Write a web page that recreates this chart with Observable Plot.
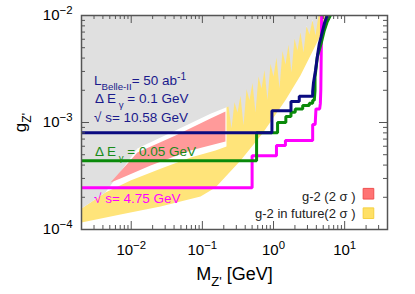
<!DOCTYPE html>
<html><head><meta charset="utf-8">
<script src="https://cdn.jsdelivr.net/npm/d3@7"></script>
<script src="https://cdn.jsdelivr.net/npm/@observablehq/plot@0.6"></script>
<style>
body{margin:0;background:#fff;}
svg{font-family:"Liberation Sans",Arial,Helvetica,sans-serif;}
</style></head><body><div id="chart"></div>
<script>
const xDomain = [0.002, 40];
const yDomain = [1e-4, 1e-2];
const xMajor = [0.01, 0.1, 1, 10];
const xTickLabels = ["10^{−2}", "10^{−1}", "10^{0}", "10^{1}"];
const xMinor = [0.002,0.003,0.004,0.005,0.006,0.007,0.008,0.009,0.02,0.03,0.04,0.05,0.06,0.07,0.08,0.09,0.2,0.3,0.4,0.5,0.6,0.7,0.8,0.9,2,3,4,5,6,7,8,9,20,30];
const yMajor = [1e-4, 1e-3, 1e-2];
const yTickLabels = ["10^{−4}", "10^{−3}", "10^{−2}"];
const yMinor = [2e-4,3e-4,4e-4,5e-4,6e-4,7e-4,8e-4,9e-4,2e-3,3e-3,4e-3,5e-3,6e-3,7e-3,8e-3,9e-3];

// g-2 in future (2 sigma), [M, g]
const futureBand = [[0.002,1.57e-4],[0.00434,2.22e-4],[0.00977,2.87e-4],[0.0258,3.70e-4],[0.0681,4.71e-4],[0.153,5.47e-4],[0.2183,5.97e-4],[0.2183,1.47e-3],[0.9989,3.96e-3],[4.285,1e-2],[6.32,1e-2],[3.89,5.25e-3],[2.39,2.75e-3],[1.47,1.61e-3],[0.700,7.89e-4],[0.344,4.41e-4],[0.153,2.47e-4],[0.0942,2.03e-4],[0.0258,1.64e-4],[0.00706,1.38e-4],[0.002,1.16e-4]];
// excluded (gray) region with its jagged limit
const grayRegion = [[0.002,1e-2],[4.285,1e-2],[3.889,6.50e-3],[3.529,9.14e-3],[3.203,6.65e-3],[2.906,7.98e-3],[2.638,4.51e-3],[2.393,6.98e-3],[2.172,4.71e-3],[1.971,6.10e-3],[1.788,2.93e-3],[1.623,5.32e-3],[1.473,3.48e-3],[1.337,4.65e-3],[1.213,2.08e-3],[1.101,4.06e-3],[0.9989,2.69e-3],[0.9066,3.54e-3],[0.8225,1.61e-3],[0.7464,3.09e-3],[0.6774,2.08e-3],[0.6147,2.69e-3],[0.5577,1.24e-3],[0.5063,2.34e-3],[0.4594,1.61e-3],[0.4170,2.04e-3],[0.3783,9.38e-4],[0.3433,1.78e-3],[0.3114,1.24e-3],[0.2827,1.55e-3],[0.2566,8.79e-4],[0.2329,1.41e-3],[0.130,1.21e-3],[0.0419,8.41e-4],[0.0122,5.71e-4],[0.00434,2.22e-4],[0.002,1.57e-4]];
// g-2 (2 sigma)
const currentBand = [[0.00512,2.75e-4],[0.0122,5.25e-4],[0.0419,7.57e-4],[0.130,1.09e-3],[0.211,1.27e-3],[0.211,6.65e-4],[0.0681,5.47e-4],[0.0187,3.96e-4],[0.00706,3.0e-4]];

// Belle-II sensitivity, dE = 0.1 GeV, sqrt(s) = 10.58 GeV
const blueLine = [[0.002,8e-4],[0.95,8e-4],[0.95,1.29e-3],[1.76,1.29e-3],[1.76,1.57e-3],[2.30,1.57e-3],[2.30,1.76e-3],[3.55,1.76e-3],[3.55,1.95e-3],[3.65,2.37e-3],[3.89,3.06e-3],[4.18,4.38e-3],[4.40,5.44e-3],[4.65,6.27e-3],[5.17,8.36e-3],[5.65,1e-2]];
// dE = 0.05 GeV
const greenLine = [[0.002,4.4e-4],[0.578,4.4e-4],[0.578,8e-4],[1.14,8e-4],[1.14,1.0e-3],[1.49,1.0e-3],[1.49,1.14e-3],[1.76,1.14e-3],[1.76,1.25e-3],[2.02,1.25e-3],[2.02,1.34e-3],[2.57,1.34e-3],[2.57,1.44e-3],[3.18,1.44e-3],[3.18,1.51e-3],[3.55,1.51e-3],[3.55,1.61e-3],[3.74,1.61e-3],[3.83,1.99e-3],[3.83,2.65e-3],[4.12,4.07e-3],[4.65,5.44e-3],[5.17,7.24e-3],[5.65,8.66e-3],[6.28,1e-2]];
// sqrt(s) = 4.75 GeV
const magentaLine = [[0.002,2.45e-4],[0.5,2.45e-4],[0.5,4.9e-4],[1.1,4.9e-4],[1.1,6.1e-4],[1.47,6.1e-4],[1.47,6.8e-4],[3.55,6.8e-4],[3.55,9.6e-4],[3.85,9.6e-4],[3.95,1.34e-3],[4.45,1.34e-3],[4.55,1.5e-3],[4.62,2.0e-3],[4.75,1e-2]];

const annotations = [
  {text: "L_{Belle-II}= 50 ab^{-1}", m: 0.003, g: 2.22e-3, color: "#1a1a8c"},
  {text: "Δ E_{ γ} = 0.1 GeV", m: 0.0031, g: 1.51e-3, color: "#1a1a8c"},
  {text: "√ s= 10.58 GeV", m: 0.0030, g: 1.01e-3, color: "#1a1a8c"},
  {text: "Δ E_{ γ} = 0.05 GeV", m: 0.0031, g: 4.84e-4, color: "#1a8c1a"},
  {text: "√ s= 4.75 GeV", m: 0.0030, g: 1.78e-4, color: "#ff00ff"}
];
const legendItems = [
  {label: "g-2 (2 σ )", m: 14.2, g: 1.84e-4, sm: 21.6, sg: 2.16e-4, fill: "#ff7373", stroke: "#f05050"},
  {label: "g-2 in future(2 σ )", m: 14.2, g: 1.28e-4, sm: 21.6, sg: 1.42e-4, fill: "#ffe066", stroke: "#f5d040"}
];

const frameColor = "#555";
const innerH = 214, innerW = 306;
const P = d => d[0], Q = d => d[1];

const svg = Plot.plot({
  width: 415, height: 294,
  marginLeft: 81, marginRight: 28, marginTop: 15, marginBottom: 65,
  x: {type: "log", domain: xDomain},
  y: {type: "log", domain: yDomain},
  marks: [
    Plot.line(futureBand, {x: P, y: Q, fill: "#ffe47a", stroke: "none", clip: true}),
    Plot.line(grayRegion, {x: P, y: Q, fill: "#e0e0e0", stroke: "none", clip: true}),
    Plot.line(currentBand, {x: P, y: Q, fill: "#ff9a9a", stroke: "none", clip: true}),
    Plot.line(magentaLine, {x: P, y: Q, stroke: "#ff00ff", strokeWidth: 3, clip: true, strokeLinejoin: "miter"}),
    Plot.line(greenLine, {x: P, y: Q, stroke: "#0a8a0a", strokeWidth: 3, clip: true, strokeLinejoin: "miter"}),
    Plot.line(blueLine, {x: P, y: Q, stroke: "#0a0a80", strokeWidth: 3, clip: true, strokeLinejoin: "miter"}),
    Plot.text(annotations, {x: "m", y: "g", text: "text", fill: "color", textAnchor: "start", lineAnchor: "bottom", fontSize: 13.5}),
    Plot.text(legendItems, {x: "m", y: "g", text: "label", textAnchor: "end", lineAnchor: "bottom", fontSize: 13, fill: "#222"}),
    Plot.dot(legendItems, {x: "sm", y: "sg", symbol: "square", r: 6, fill: "fill", stroke: "stroke", strokeWidth: 1}),
    Plot.tickX(xMajor, {x: d => d, insetTop: innerH - 8, stroke: frameColor}),
    Plot.tickX(xMajor, {x: d => d, insetBottom: innerH - 8, stroke: frameColor}),
    Plot.tickX(xMinor, {x: d => d, insetTop: innerH - 4, stroke: frameColor}),
    Plot.tickX(xMinor, {x: d => d, insetBottom: innerH - 4, stroke: frameColor}),
    Plot.tickY(yMajor, {y: d => d, insetRight: innerW - 8, stroke: frameColor}),
    Plot.tickY(yMajor, {y: d => d, insetLeft: innerW - 8, stroke: frameColor}),
    Plot.tickY(yMinor, {y: d => d, insetRight: innerW - 4, stroke: frameColor}),
    Plot.tickY(yMinor, {y: d => d, insetLeft: innerW - 4, stroke: frameColor}),
    Plot.frame({stroke: frameColor, strokeWidth: 1.5}),
    Plot.axisX({ticks: xMajor, tickSize: 0, tickPadding: 15, label: null, fontSize: 15, fill: "#000",
      tickFormat: d => xTickLabels[xMajor.findIndex(v => Math.abs(v - d) < v * 1e-6)]}),
    Plot.axisY({ticks: yMajor, tickSize: 0, tickPadding: 9, label: null, fontSize: 15, fill: "#000",
      tickFormat: d => yTickLabels[yMajor.findIndex(v => Math.abs(v - d) < v * 1e-6)]}),
    Plot.text(["g_{Z'}"], {text: d => d, frameAnchor: "left", dx: -61, rotate: -90, textAnchor: "middle", lineAnchor: "middle", fontSize: 17, fill: "#000"}),
    Plot.text(["M_{Z'} [GeV]"], {text: d => d, frameAnchor: "bottom", dy: 45, textAnchor: "middle", lineAnchor: "middle", fontSize: 18, fill: "#000"})
  ]
});

// turn _{..} and ^{..} into sub/superscript tspans
const NS = "http://www.w3.org/2000/svg";
function richify(node) {
  const s = node.textContent;
  if (!/[_^]\{/.test(s)) return;
  const base = parseFloat(getComputedStyle(node).fontSize) || 12;
  const re = /([_^])\{([^}]*)\}/g;
  const parts = [];
  let last = 0, m;
  while ((m = re.exec(s))) { parts.push([null, s.slice(last, m.index)]); parts.push([m[1], m[2]]); last = re.lastIndex; }
  parts.push([null, s.slice(last)]);
  node.textContent = "";
  let cur = 0;
  for (const [k, t] of parts) {
    if (!t) continue;
    const ts = document.createElementNS(NS, "tspan");
    const target = k === "_" ? base * 0.32 : k === "^" ? -base * 0.42 : 0;
    if (target - cur) ts.setAttribute("dy", (target - cur).toFixed(2));
    if (k) ts.setAttribute("font-size", (base * (k === "^" ? 0.76 : 0.72)).toFixed(1));
    cur = target;
    ts.textContent = t;
    node.appendChild(ts);
  }
}
document.getElementById("chart").appendChild(svg);
svg.querySelectorAll("text").forEach(t => {
  const spans = t.querySelectorAll("tspan");
  if (spans.length) spans.forEach(richify); else richify(t);
});
</script></body></html>
